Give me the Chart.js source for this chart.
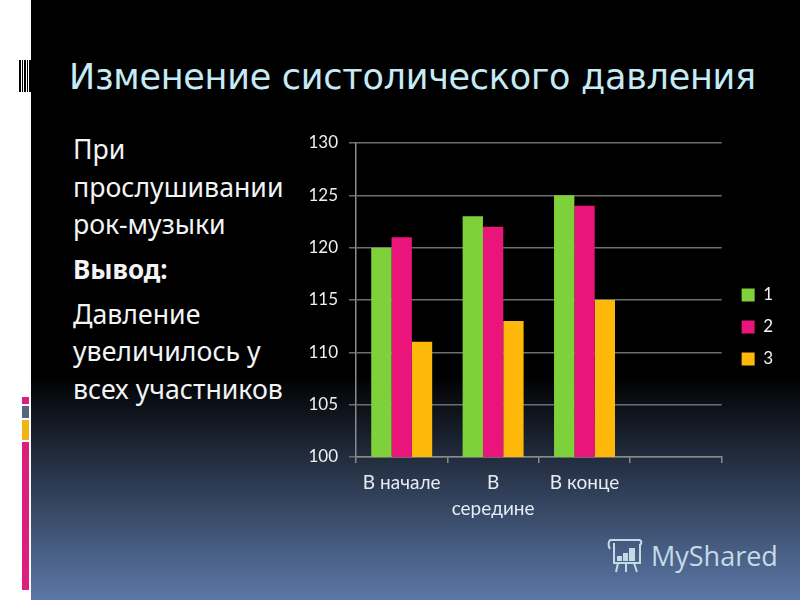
<!DOCTYPE html>
<html><head><meta charset="utf-8">
<style>
html,body{margin:0;padding:0;width:800px;height:600px;overflow:hidden;background:#fff}
#bg{position:absolute;left:31px;top:0;width:769px;height:600px;background:linear-gradient(to bottom,#000 0,#000 375px,#5c78a8 600px)}
.s{position:absolute;left:22px;width:7px}
.b{position:absolute;top:60px;height:32px;background:#000}
#title{position:absolute;left:69px;top:57px;font:35px "DejaVu Sans";letter-spacing:-0.26px;color:#c6ebf5;white-space:nowrap}
.t{position:absolute;left:73px;font:26.7px "Noto Sans";color:#f2f4f6;white-space:nowrap}
#wm{position:absolute;left:651px;top:537px;font:27px "Open Sans";color:#c3dbe4;white-space:nowrap}
#ic{position:absolute;left:606px;top:535px}
canvas{position:absolute;left:0;top:0}
</style></head><body>
<div id="bg"></div>
<div class="b" style="left:19px;width:2px"></div><div class="b" style="left:22px;width:1px"></div><div class="b" style="left:24px;width:2px"></div><div class="b" style="left:27px;width:1px"></div><div class="b" style="left:29px;width:2px"></div>
<div class="s" style="top:397px;height:7px;background:#dc1f7c"></div>
<div class="s" style="top:406px;height:12px;background:#5a6580"></div>
<div class="s" style="top:420px;height:20px;background:#f2b315"></div>
<div class="s" style="top:442px;height:148px;background:#dc1f7c"></div>
<div id="title">Изменение систолического давления</div>
<div class="t" style="top:130px">При</div>
<div class="t" style="top:168px">прослушивании</div>
<div class="t" style="top:205px">рок-музыки</div>
<div class="t" style="top:251px;font-weight:700;font-size:26px">Вывод:</div>
<div class="t" style="top:295px">Давление</div>
<div class="t" style="top:332px">увеличилось у</div>
<div class="t" style="top:370px">всех участников</div>
<svg id="ic" width="40" height="40" viewBox="0 0 40 40" fill="none" stroke="#c3dbe4" stroke-width="2"><path d="M5 5H33M5 5C2 5 2 12 4 14M33 5C36 5 36 10 33 10M8 8V28H34V10"/><path d="M12 28L10 37M20 28V37M28 28L31 37"/><rect x="12" y="22" width="3" height="3" fill="#c3dbe4"/><rect x="18" y="19" width="3" height="6" fill="#c3dbe4"/><rect x="24" y="14" width="4" height="11" fill="#c3dbe4"/></svg>
<div id="wm">MyShared</div>
<canvas id="c" width="800" height="600"></canvas>
<script src="https://cdn.jsdelivr.net/npm/chart.js@4"></script>
<script>
const categories=[["В начале"],["В","середине"],["В конце"],[""]];
const seriesNames=["1","2","3"];
const series1=[120,123,125,null];
const series2=[121,122,124,null];
const series3=[111,113,115,null];
const colors=["#7fd13b","#ea157a","#feb80a"];
const yMin=100,yMax=130,yStep=5;
const legendShift={
  id:"legendShift",
  afterLayout(chart){const l=chart.legend;l.top-=8;l.bottom-=8;l.left=chart.chartArea.right+5;}
};
new Chart(document.getElementById("c"),{
  type:"bar",
  data:{labels:categories,datasets:[series1,series2,series3].map((d,i)=>({label:seriesNames[i],data:d,backgroundColor:colors[i],borderWidth:0}))},
  plugins:[legendShift],
  options:{
    responsive:false,animation:false,
    layout:{padding:{left:306,top:143,right:22,bottom:73}},
    datasets:{bar:{categoryPercentage:0.667,barPercentage:1}},
    plugins:{
      title:{display:false},tooltip:{enabled:false},
      legend:{display:true,position:"right",align:"center",
        labels:{boxWidth:13,boxHeight:13,padding:15,color:"#f0f2f4",font:{family:"Lato",size:17}}}
    },
    scales:{
      x:{offset:true,afterFit(s){s.height=70;},
        grid:{display:true,drawOnChartArea:false,color:"#8a8a8a",tickLength:6,lineWidth:1.5},
        border:{color:"#8a8a8a",width:1.5},
        ticks:{color:"#e6ecf2",font:{family:"Lato",size:19,lineHeight:1.35},maxRotation:0,minRotation:0,autoSkip:false,padding:7}},
      y:{min:yMin,max:yMax,afterFit(s){s.width=50;},
        grid:{color:"#6e6e6e",lineWidth:1.5,tickLength:7},
        border:{color:"#8a8a8a",width:1.5},
        ticks:{stepSize:yStep,color:"#eef0f2",font:{family:"Lato",size:17},padding:11}}
    }
  }
});
</script>
</body></html>
